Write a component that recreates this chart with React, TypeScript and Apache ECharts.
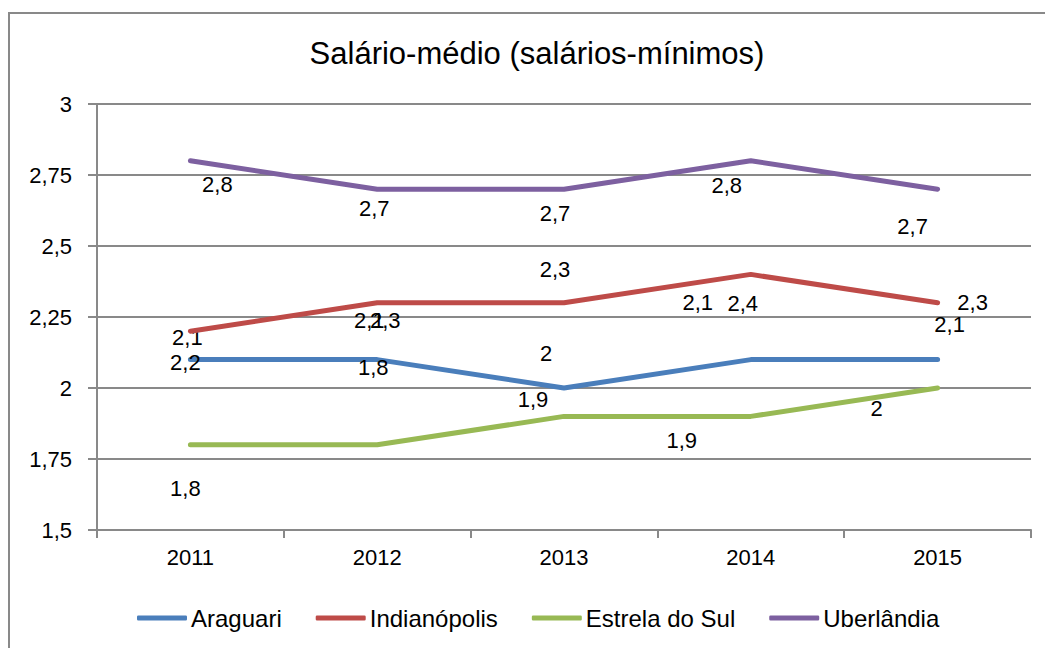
import React, { useEffect, useRef } from "react";
import * as echarts from "echarts";

const categories = ["2011", "2012", "2013", "2014", "2015"];
const seriesNames = ["Araguari", "Indianópolis", "Estrela do Sul", "Uberlândia"];
const araguari = [2.1, 2.1, 2.0, 2.1, 2.1];
const indianopolis = [2.2, 2.3, 2.3, 2.4, 2.3];
const estrelaDoSul = [1.8, 1.8, 1.9, 1.9, 2.0];
const uberlandia = [2.8, 2.7, 2.7, 2.8, 2.7];
const colors = ["#4a7ebb", "#be4b48", "#98b954", "#7d60a0"];

// label offsets (styling only), per series per point
const labelOffsets: number[][][] = [
  [[-3, -22], [-8, -39], [-18, -35], [-53, -57], [12, -35]],
  [[-5, 31], [8, 18], [-9, -33], [-8, 29], [35, 0]],
  [[-5, 44], [-4, -77], [-31, -17], [-69, 24], [-61, 20]],
  [[27, 24], [-3, 19], [-9, 24], [-24, 25], [-25, 37]],
];

const FONT = "'Liberation Sans', Arial, sans-serif";

const fmt = (v: number) => String(v).replace(".", ",");

export default function App() {
  const ref = useRef<HTMLDivElement>(null);
  useEffect(() => {
    if (!ref.current) return;
    const chart = echarts.init(ref.current, undefined, { renderer: "svg" });
    const allData = [araguari, indianopolis, estrelaDoSul, uberlandia];
    chart.setOption({
      animation: false,
      backgroundColor: "#ffffff",
      textStyle: { fontFamily: FONT },
      title: {
        text: "Salário-médio (salários-mínimos)",
        left: 532,
        textAlign: "center",
        top: 33,
        textStyle: { fontFamily: FONT, fontSize: 31, fontWeight: "normal", color: "#000" },
      },
      graphic: [
        {
          type: "rect",
          shape: { x: 9, y: 13, width: 1100, height: 700 },
          style: { fill: "none", stroke: "#898989", lineWidth: 2 },
          silent: true,
          z: 0,
        },
      ],
      legend: {
        data: seriesNames,
        left: 137,
        top: 606,
        padding: 0,
        itemWidth: 50,
        itemHeight: 5,
        itemGap: 34,
        icon: "roundRect",
        textStyle: { fontFamily: FONT, fontSize: 24, color: "#000", padding: [0, 0, 0, -1] },
      },
      grid: { left: 97, right: 14, top: 104, bottom: 118, containLabel: false },
      xAxis: {
        type: "category",
        data: categories,
        boundaryGap: true,
        axisLine: { lineStyle: { color: "#898989", width: 2 } },
        axisTick: { show: true, length: 8, lineStyle: { color: "#898989", width: 2 } },
        axisLabel: { fontFamily: FONT, fontSize: 22, color: "#000", margin: 16 },
      },
      yAxis: {
        type: "value",
        min: 1.5,
        max: 3,
        interval: 0.25,
        axisLine: { show: true, lineStyle: { color: "#898989", width: 2 } },
        axisTick: { show: true, length: 9, lineStyle: { color: "#898989", width: 2 } },
        splitLine: { lineStyle: { color: "#898989", width: 2 } },
        axisLabel: { fontFamily: FONT, fontSize: 22, color: "#000", margin: 25, formatter: (v: number) => fmt(v) },
      },
      series: seriesNames.map((name, si) => ({
        name,
        type: "line",
        data: allData[si].map((v, i) => ({
          value: v,
          label: { offset: labelOffsets[si][i] },
        })),
        color: colors[si],
        symbol: "circle",
        symbolSize: 0,
        showSymbol: true,
        itemStyle: { color: colors[si] },
        lineStyle: { width: 5, color: colors[si], cap: "round", join: "round" },
        label: {
          show: true,
          position: [0, 0],
          align: "center",
          verticalAlign: "middle",
          fontFamily: FONT,
          fontSize: 22,
          color: "#000",
          formatter: (p: any) => fmt(p.value),
        },
        z: 3 + si,
      })),
    });
    return () => chart.dispose();
  }, []);
  return (
    <div
      ref={ref}
      style={{ position: "fixed", left: 0, top: 0, width: 1045, height: 648 }}
    />
  );
}
